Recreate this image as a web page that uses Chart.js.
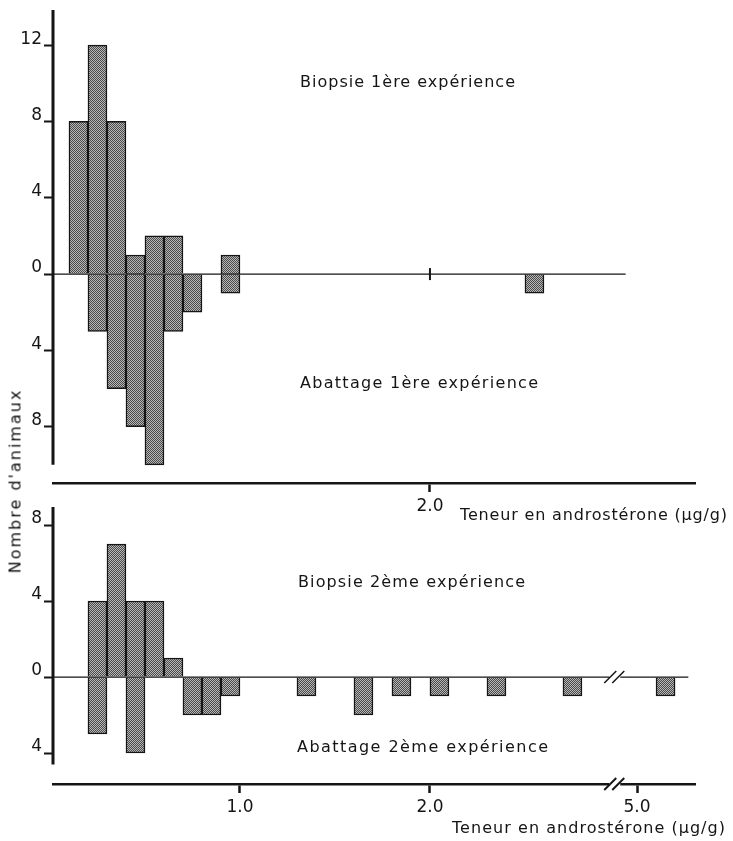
<!DOCTYPE html>
<html>
<head>
<meta charset="utf-8">
<script src="https://cdn.jsdelivr.net/npm/chart.js@4.4.1/dist/chart.umd.min.js"></script>
<style>
  body { margin: 0; background: #fff; }
  #wrap { position: relative; width: 733px; height: 841px; overflow: hidden; }
  canvas { position: absolute; left: 0; }
  #topChart { top: 0; }
  #bottomChart { top: 495px; }
  #ylabel {
    position: absolute; left: 15px; top: 481px;
    transform: translate(-50%, -50%) rotate(-90deg);
    font: 16px 'DejaVu Sans'; letter-spacing: 2px; white-space: nowrap; color: #111;
  }
</style>
</head>
<body>
<div id="wrap">
  <canvas id="topChart" width="733" height="525"></canvas>
  <canvas id="bottomChart" width="733" height="346"></canvas>
  <div id="ylabel">Nombre d'animaux</div>
</div>
<script>
// classes of 0.1 µg/g, given by their lower bound
const bins1 = [0.1, 0.2, 0.3, 0.4, 0.5, 0.6, 0.7, 0.8, 0.9, 2.5];
const biopsie1 = [8, 12, 8, 1, 2, 2, 0, 0, 1, 0];
const abattage1 = [0, 3, 6, 8, 10, 3, 2, 0, 1, 1];

const bins2 = [0.2, 0.3, 0.4, 0.5, 0.6, 0.7, 0.8, 0.9, 1.3, 1.6, 1.8, 2.0, 2.3, 2.7, 5.1];
const biopsie2 = [4, 7, 4, 4, 1, 0, 0, 0, 0, 0, 0, 0, 0, 0, 0];
const abattage2 = [3, 0, 4, 0, 0, 2, 2, 1, 1, 2, 1, 1, 1, 1, 1];

const yTicks1 = [12, 8, 4, 0, -4, -8];
const yTicks2 = [8, 4, 0, -4];
const xTicks1 = [2.0];
const xTicks2 = [1.0, 2.0, 5.0];

const BIN = 0.1;
const BREAK_FROM = 4;      // everything past the // is pulled left
const BREAK_SHIFT = 1.91;
const INK = '#151515';

function toPlot(v) {
  return v >= BREAK_FROM ? v - BREAK_SHIFT : v;
}

Chart.defaults.font.family = "'DejaVu Sans'";
Chart.defaults.color = INK;

// halftone grey of the original bars
const pc = document.createElement('canvas');
pc.width = 2; pc.height = 2;
const pg = pc.getContext('2d');
pg.fillStyle = '#b8b8b8'; pg.fillRect(0, 0, 2, 2);
pg.fillStyle = '#4a4a4a'; pg.fillRect(0, 0, 1, 1); pg.fillRect(1, 1, 1, 1);
const stipple = pg.createPattern(pc, 'repeat');

function barSet(bins, counts, sign) {
  return {
    data: bins.map((b, i) => ({ x: toPlot(b + BIN / 2), y: counts[i] ? sign * counts[i] : null })),
    backgroundColor: stipple,
    borderColor: INK,
    borderWidth: 1.5,
    stack: 's',
    barPercentage: 1,
    categoryPercentage: 1
  };
}

function fitText(ctx, text, x, y, width) {
  ctx.letterSpacing = '0px';
  const w = ctx.measureText(text).width;
  ctx.letterSpacing = ((width - w) / (text.length - 1)) + 'px';
  ctx.fillText(text, x, y);
  ctx.letterSpacing = '0px';
}

const decor = {
  id: 'decor',
  afterDraw(chart, args, o) {
    const { ctx, chartArea: a, scales: { x, y } } = chart;
    const y0 = y.getPixelForValue(0);
    ctx.save();
    ctx.strokeStyle = INK;
    ctx.lineCap = 'butt';

    // vertical axis, stops short of the horizontal one
    ctx.lineWidth = 3;
    ctx.beginPath();
    ctx.moveTo(a.left, y.getPixelForValue(o.yAxisEnd));
    ctx.lineTo(a.left, a.top);
    ctx.stroke();

    // zero line
    ctx.lineWidth = 1.3;
    ctx.beginPath();
    ctx.moveTo(a.left, y0);
    ctx.lineTo(x.getPixelForValue(o.zeroEnd), y0);
    ctx.stroke();

    if (o.zeroMark !== undefined) {
      const xm = x.getPixelForValue(o.zeroMark);
      ctx.lineWidth = 2;
      ctx.beginPath();
      ctx.moveTo(xm, y0 - 6);
      ctx.lineTo(xm, y0 + 6);
      ctx.stroke();
    }

    if (o.breakAt !== undefined) {
      const xb = x.getPixelForValue(o.breakAt);
      [[y0, 1.3], [a.bottom, 2.5]].forEach(([yy, lw]) => {
        ctx.fillStyle = '#fff';
        ctx.fillRect(xb - 5, yy - 3, 11, 6);
        ctx.lineWidth = lw > 2 ? 2 : 1.5;
        [-4, 4].forEach(d => {
          ctx.beginPath();
          ctx.moveTo(xb + d - 6, yy + 6);
          ctx.lineTo(xb + d + 6, yy - 6);
          ctx.stroke();
        });
      });
    }

    ctx.fillStyle = INK;
    ctx.textBaseline = 'middle';
    ctx.textAlign = 'left';
    ctx.font = "16px 'DejaVu Sans'";
    o.texts.forEach(t => fitText(ctx, t.text, t.x, t.y, t.w));
    ctx.restore();
  }
};

function makeChart(id, bins, up, down, yTicks, xTicks, yMin, yMax, xHeight, padTop, decorOpts) {
  return new Chart(document.getElementById(id), {
    type: 'bar',
    data: { datasets: [barSet(bins, up, 1), barSet(bins, down, -1)] },
    options: {
      responsive: false,
      animation: false,
      layout: { padding: { left: 0, top: padTop, right: 38, bottom: 0 } },
      plugins: { legend: { display: false }, tooltip: { enabled: false }, decor: decorOpts },
      scales: {
        x: {
          type: 'linear',
          stacked: true,
          offset: false,
          min: 0.016,
          max: 3.395,
          afterBuildTicks: s => { s.ticks = xTicks.map(v => ({ value: toPlot(v) })); },
          afterFit: s => { s.height = xHeight; s.paddingLeft = 0; s.paddingRight = 0; },
          ticks: { callback: (v, i) => xTicks[i].toFixed(1), font: { size: 17 }, padding: 4, maxRotation: 0, autoSkip: false },
          grid: { offset: false, drawOnChartArea: false, drawTicks: true, tickLength: 9, tickWidth: 2.5, tickColor: INK },
          border: { display: true, color: INK, width: 2.5 }
        },
        y: {
          stacked: true,
          min: yMin,
          max: yMax,
          afterBuildTicks: s => { s.ticks = yTicks.map(v => ({ value: v })); },
          afterFit: s => { s.width = 53; s.paddingTop = 0; s.paddingBottom = 0; },
          ticks: { callback: v => Math.abs(v), font: { size: 17 }, padding: 2, labelOffset: -6 },
          grid: { drawOnChartArea: false, drawTicks: true, tickLength: 9, tickWidth: 2, tickColor: INK },
          border: { display: false }
        }
      }
    },
    plugins: [decor]
  });
}

makeChart('topChart', bins1, biopsie1, abattage1, yTicks1, xTicks1, -10.95, 13.84, 42, 10, {
  yAxisEnd: -10,
  zeroEnd: 3.03,
  zeroMark: 2.0,
  texts: [
    { text: 'Biopsie 1ère expérience', x: 300, y: 83, w: 215 },
    { text: 'Abattage 1ère expérience', x: 300, y: 384, w: 238 },
    { text: 'Teneur en androstérone (µg/g)', x: 460, y: 516, w: 267 }
  ]
});

makeChart('bottomChart', bins2, biopsie2, abattage2, yTicks2, xTicks2, -5.63, 8.95, 57, 12, {
  yAxisEnd: -4.6,
  zeroEnd: 3.36,
  breakAt: 2.97,
  texts: [
    { text: 'Biopsie 2ème expérience', x: 298, y: 88, w: 227 },
    { text: 'Abattage 2ème expérience', x: 297, y: 253, w: 251 },
    { text: 'Teneur en androstérone (µg/g)', x: 452, y: 334, w: 273 }
  ]
});
</script>
</body>
</html>
